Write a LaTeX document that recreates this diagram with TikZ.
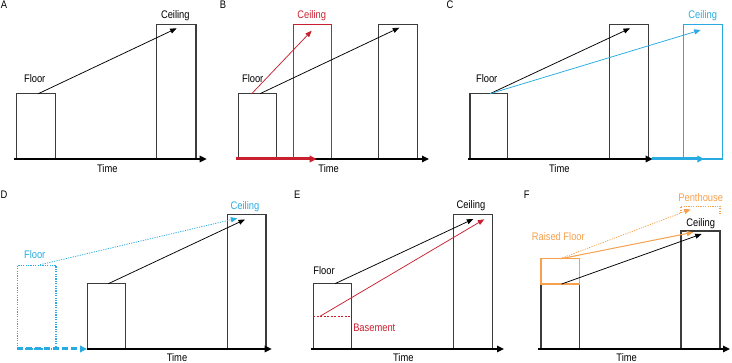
\documentclass[tikz,border=0pt]{standalone}
\usepackage{fontspec}
\setmainfont{Liberation Sans}[FakeStretch=0.85]
\usetikzlibrary{arrows.meta}
\definecolor{boxgray}{HTML}{3C3C3C}
\definecolor{myred}{HTML}{C8202F}
\definecolor{mycyan}{HTML}{29ABE2}
\definecolor{myorange}{HTML}{F6A04D}
\tikzset{
  boxn/.style={draw=boxgray, line width=1.5, inner sep=0, outer sep=0, anchor=south west},
  axisline/.style={draw=black, line width=1.6, -{Triangle[length=7,width=6.5]}},
  thickarr/.style={line width=3, -{Triangle[length=7,width=6.5]}},
  arr/.style={line width=0.75, -{Triangle[length=6.5,width=5]}},
  dotline/.style={dash pattern=on 1.2pt off 1.2pt},
  lbl/.style={font=\fontsize{11}{12}\selectfont, inner sep=0},
}
\begin{document}
\begin{tikzpicture}[x=1pt,y=-1pt]
\useasboundingbox (0,0) rectangle (732,363);
% ---------------- Panel A
\node[lbl] (Alet) at (4,5) {A};
\node[boxn, minimum width=38.6, minimum height=65.3] (Afl) at (16.7,159) {};
\node[boxn, minimum width=39.3, minimum height=134.3] (Ace) at (156.7,159) {};
\coordinate (Aax0) at (14,159); \coordinate (Aax1) at (206.7,159);
\draw[axisline] (Aax0) -- (Aax1);
\coordinate (As) at (38.3,93.7); \coordinate (Ae) at (176.7,28.3);
\draw[arr] (As) -- (Ae);
\node[lbl] (Aflt) at (34.7,78.7) {Floor};
\node[lbl] (Acet) at (175.3,16) {Ceiling};
\node[lbl] (Atime) at (107.3,169) {Time};
% ---------------- Panel B
\node[lbl] (Blet) at (223,5) {B};
\node[boxn, minimum width=38.4, minimum height=65.3] (Bfl) at (238.3,159) {};
\node[boxn, draw=myred, minimum width=38, minimum height=134.3] (Bred) at (293.3,159) {};
\node[boxn, minimum width=39, minimum height=134.3] (Bce) at (378.3,159) {};
\coordinate (Bax0) at (236,159); \coordinate (Bax1) at (429,159);
\draw[axisline] (Bax0) -- (Bax1);
\coordinate (Brx0) at (235.7,159); \coordinate (Brx1) at (316.7,159);
\draw[thickarr, myred] (Brx0) -- (Brx1);
\coordinate (Brs) at (251.7,93.7); \coordinate (Bre) at (311.7,30.7);
\draw[arr, myred] (Brs) -- (Bre);
\coordinate (Bbs) at (260,93.7); \coordinate (Bbe) at (399.3,27.7);
\draw[arr] (Bbs) -- (Bbe);
\node[lbl] (Bflt) at (252.7,78.7) {Floor};
\node[lbl, text=myred] (Bcet) at (311.7,16) {Ceiling};
\node[lbl] (Btime) at (328.7,169) {Time};
% ---------------- Panel C
\node[lbl] (Clet) at (450,5) {C};
\node[boxn, minimum width=37.7, minimum height=65.3] (Cfl) at (470,159) {};
\node[boxn, minimum width=39, minimum height=134.3] (Cce) at (609.3,159) {};
\node[boxn, draw=mycyan, minimum width=39, minimum height=134.3] (Ccy) at (683.3,159) {};
\coordinate (Cax0) at (468,159); \coordinate (Cax1) at (652.7,159);
\draw[axisline] (Cax0) -- (Cax1);
\coordinate (Ccx0) at (652,159); \coordinate (Ccx1) at (704.3,159);
\draw[thickarr, mycyan] (Ccx0) -- (Ccx1);
\coordinate (Cs) at (490,93.7); \coordinate (Cbe) at (630,28.3); \coordinate (Cce2) at (700.7,30);
\draw[arr] (Cs) -- (Cbe);
\draw[arr, mycyan] (Cs) -- (Cce2);
\node[lbl] (Cflt) at (486.7,78.7) {Floor};
\node[lbl, text=mycyan] (Ccet) at (702.7,16) {Ceiling};
\node[lbl] (Ctime) at (559.3,169) {Time};
% ---------------- Panel D
\node[lbl] (Dlet) at (4,195) {D};
\node[boxn, draw=mycyan, dotline, minimum width=38.7, minimum height=83.3] (Dcy) at (17.3,349) {};
\node[boxn, minimum width=38.4, minimum height=65.3] (Dfl) at (87.3,349) {};
\node[boxn, minimum width=38.3, minimum height=134.3] (Dce) at (227.7,349) {};
\coordinate (Dax0) at (87.3,349); \coordinate (Dax1) at (271.7,349);
\draw[axisline] (Dax0) -- (Dax1);
\coordinate (Dcx0) at (17,349); \coordinate (Dcx1) at (87,349);
\draw[thickarr, mycyan, dash pattern=on 6pt off 3pt] (Dcx0) -- (Dcx1);
\coordinate (Dcs) at (40,264.7); \coordinate (Dce2) at (237.3,218.3);
\draw[arr, mycyan, dotline] (Dcs) -- (Dce2);
\coordinate (Dbs) at (108.3,283.7); \coordinate (Dbe) at (245,219.5);
\draw[arr] (Dbs) -- (Dbe);
\node[lbl, text=mycyan] (Dflt) at (34.7,255) {Floor};
\node[lbl, text=mycyan] (Dcet) at (245,207) {Ceiling};
\node[lbl] (Dtime) at (177,357.5) {Time};
% ---------------- Panel E
\node[lbl] (Elet) at (297.3,195) {E};
\node[boxn, minimum width=38.4, minimum height=65.3] (Efl) at (313.3,349) {};
\node[boxn, minimum width=39, minimum height=134.3] (Ece) at (453.3,349) {};
\coordinate (Eax0) at (310.7,349); \coordinate (Eax1) at (504,349);
\draw[axisline] (Eax0) -- (Eax1);
\coordinate (Ebl0) at (313.3,316.3); \coordinate (Ebl1) at (351.7,316.3);
\draw[myred, line width=0.8, dash pattern=on 2pt off 1.5pt] (Ebl0) -- (Ebl1);
\coordinate (Ebs) at (335,283.7); \coordinate (Ebe) at (473.3,219);
\draw[arr] (Ebs) -- (Ebe);
\coordinate (Ers) at (320,316.3); \coordinate (Ere) at (484.3,219.3);
\draw[arr, myred] (Ers) -- (Ere);
\node[lbl] (Eflt) at (324,271) {Floor};
\node[lbl, text=myred] (Ebst) at (374.3,327.7) {Basement};
\node[lbl] (Ecet) at (471,206) {Ceiling};
\node[lbl] (Etime) at (403.3,357.5) {Time};
% ---------------- Panel F
\node[lbl] (Flet) at (526.7,195) {F};
\node[boxn, minimum width=38.3, minimum height=65] (Ffl) at (541,349) {};
\node[boxn, minimum width=39, minimum height=118] (Fce) at (681,349) {};
\node[boxn, draw=myorange, minimum width=38.3, minimum height=25.3] (Fraise) at (541,284) {};
\coordinate (Fp1) at (681,213.3); \coordinate (Fp2) at (681,206.3);
\coordinate (Fp3) at (720,206.3); \coordinate (Fp4) at (720,213.3);
\draw[myorange, line width=1.1, dotline] (Fp1) -- (Fp2) -- (Fp3) -- (Fp4);
\coordinate (Fax0) at (538.3,349); \coordinate (Fax1) at (730,349);
\draw[axisline] (Fax0) -- (Fax1);
\coordinate (Fbs) at (561.7,284); \coordinate (Fbe) at (701.7,234);
\draw[arr] (Fbs) -- (Fbe);
\coordinate (Fos) at (561,258.7); \coordinate (Foe) at (693.3,232.3);
\draw[arr, myorange, line width=1] (Fos) -- (Foe);
\coordinate (Fds) at (560,258.7); \coordinate (Fde) at (690.7,209.3);
\draw[arr, myorange, dotline] (Fds) -- (Fde);
\node[lbl, text=myorange] (Frft) at (558.3,236.7) {Raised Floor};
\node[lbl, text=myorange] (Fpht) at (700.7,197.7) {Penthouse};
\node[lbl] (Fcet) at (700.7,223.3) {Ceiling};
\node[lbl] (Ftime) at (626.7,357.5) {Time};
\end{tikzpicture}
\end{document}
